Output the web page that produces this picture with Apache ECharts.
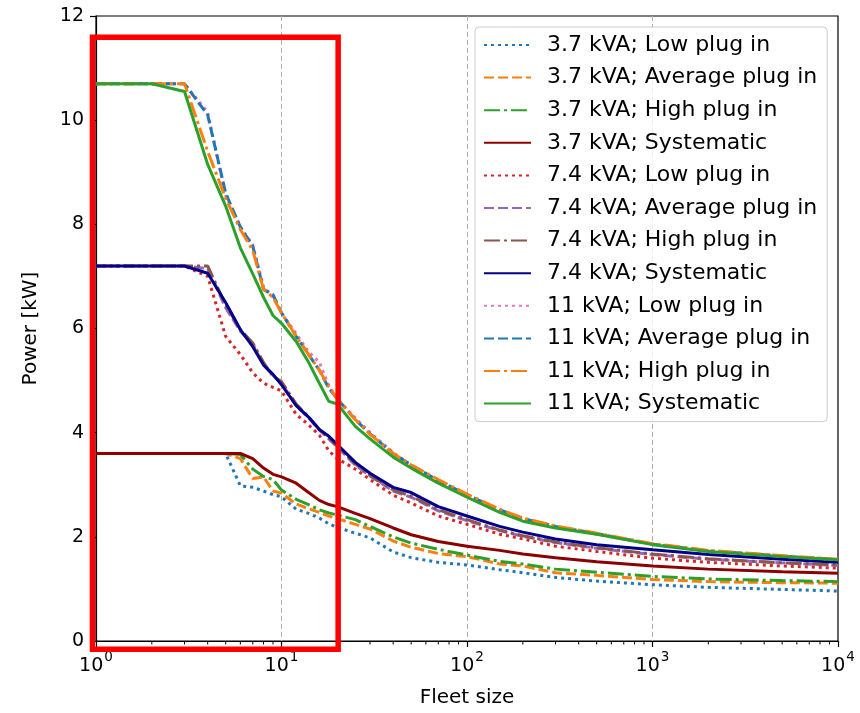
<!DOCTYPE html>
<html>
<head>
<meta charset="utf-8">
<script src="https://cdn.jsdelivr.net/npm/echarts@6/dist/echarts.min.js"></script>
<style>html,body{margin:0;padding:0;background:#fff}#c{width:860px;height:713px}</style>
</head>
<body>
<div id="c"></div>
<script>
// Fleet sizes (x)
const fleetSizes = [1, 2, 3, 4, 5, 6, 7, 8, 9, 10, 12, 14, 16, 18, 20, 25, 30, 40, 50, 70, 100, 150, 200, 300, 500, 1000, 2000, 5000, 10000];

// 3.7 kVA
const kva37Low  = [3.6, 3.6, 3.6, 3.6, 3.6, 2.98, 2.95, 2.88, 2.81, 2.77, 2.53, 2.45, 2.36, 2.25, 2.18, 2.07, 1.98, 1.71, 1.6, 1.51, 1.46, 1.37, 1.31, 1.22, 1.15, 1.08, 1.03, 0.99, 0.96];
const kva37Avg  = [3.6, 3.6, 3.6, 3.6, 3.6, 3.5, 3.12, 3.15, 2.88, 2.84, 2.63, 2.54, 2.47, 2.4, 2.35, 2.24, 2.15, 1.92, 1.8, 1.68, 1.62, 1.48, 1.44, 1.31, 1.26, 1.18, 1.14, 1.12, 1.11];
const kva37High = [3.6, 3.6, 3.6, 3.6, 3.6, 3.58, 3.3, 3.16, 3.1, 2.9, 2.72, 2.62, 2.52, 2.46, 2.42, 2.33, 2.2, 2.0, 1.88, 1.76, 1.65, 1.53, 1.48, 1.38, 1.32, 1.24, 1.19, 1.16, 1.14];
const kva37Sys  = [3.6, 3.6, 3.6, 3.6, 3.6, 3.6, 3.5, 3.32, 3.2, 3.15, 3.03, 2.85, 2.7, 2.62, 2.58, 2.45, 2.35, 2.17, 2.04, 1.91, 1.82, 1.74, 1.67, 1.6, 1.52, 1.44, 1.38, 1.33, 1.3];
// 7.4 kVA
const kva74Low  = [7.2, 7.2, 7.2, 7.0, 5.85, 5.5, 5.15, 4.95, 4.87, 4.8, 4.35, 4.15, 3.95, 3.65, 3.5, 3.3, 3.1, 2.8, 2.65, 2.4, 2.24, 2.05, 1.96, 1.82, 1.72, 1.59, 1.51, 1.44, 1.4];
const kva74Avg  = [7.2, 7.2, 7.2, 7.15, 6.4, 5.95, 5.7, 5.3, 5.1, 4.95, 4.52, 4.28, 4.05, 3.88, 3.72, 3.38, 3.17, 2.88, 2.76, 2.5, 2.31, 2.12, 2.01, 1.89, 1.78, 1.66, 1.57, 1.5, 1.45];
const kva74High = [7.2, 7.2, 7.2, 7.2, 6.45, 5.98, 5.72, 5.35, 5.08, 4.98, 4.55, 4.3, 4.06, 3.9, 3.74, 3.4, 3.18, 2.9, 2.78, 2.52, 2.33, 2.13, 2.02, 1.9, 1.79, 1.67, 1.58, 1.5, 1.46];
const kva74Sys  = [7.2, 7.2, 7.2, 7.06, 6.5, 5.98, 5.65, 5.3, 5.12, 4.92, 4.52, 4.3, 4.06, 3.93, 3.77, 3.43, 3.22, 2.95, 2.85, 2.58, 2.4, 2.2, 2.09, 1.96, 1.85, 1.75, 1.66, 1.57, 1.51];
// 11 kVA
const kva11Low  = [10.7, 10.7, 10.7, 10.15, 8.55, 7.95, 7.6, 6.8, 6.6, 6.3, 5.9, 5.55, 5.35, 4.9, 4.65, 4.28, 4.0, 3.62, 3.37, 3.07, 2.8, 2.52, 2.35, 2.2, 2.05, 1.86, 1.73, 1.63, 1.56];
const kva11Avg  = [10.7, 10.7, 10.7, 10.1, 8.6, 7.95, 7.58, 6.75, 6.65, 6.3, 5.85, 5.5, 5.2, 4.85, 4.65, 4.25, 3.98, 3.6, 3.38, 3.08, 2.81, 2.52, 2.35, 2.2, 2.06, 1.86, 1.73, 1.63, 1.56];
const kva11High = [10.7, 10.7, 10.7, 9.4, 8.5, 7.9, 7.5, 6.75, 6.6, 6.3, 5.85, 5.5, 5.2, 4.88, 4.65, 4.25, 3.97, 3.6, 3.38, 3.1, 2.82, 2.53, 2.36, 2.21, 2.07, 1.87, 1.74, 1.64, 1.57];
const kva11Sys  = [10.7, 10.7, 10.55, 9.15, 8.35, 7.55, 7.05, 6.6, 6.25, 6.1, 5.75, 5.35, 4.95, 4.6, 4.55, 4.12, 3.88, 3.53, 3.32, 3.03, 2.76, 2.47, 2.3, 2.17, 2.05, 1.85, 1.72, 1.62, 1.56];

const seriesNames = [
  '3.7 kVA; Low plug in', '3.7 kVA; Average plug in', '3.7 kVA; High plug in', '3.7 kVA; Systematic',
  '7.4 kVA; Low plug in', '7.4 kVA; Average plug in', '7.4 kVA; High plug in', '7.4 kVA; Systematic',
  '11 kVA; Low plug in', '11 kVA; Average plug in', '11 kVA; High plug in', '11 kVA; Systematic'
];
const seriesValues = [kva37Low, kva37Avg, kva37High, kva37Sys, kva74Low, kva74Avg, kva74High, kva74Sys, kva11Low, kva11Avg, kva11High, kva11Sys];
const seriesColors = ['#1f77b4', '#ff7f0e', '#2ca02c', '#8b0000', '#d62728', '#9467bd', '#8c564b', '#00008b', '#e377c2', '#1f77b4', '#ff7f0e', '#2ca02c'];
const seriesStyles = ['dot', 'dash', 'dashdot', 'solid', 'dot', 'dash', 'dashdot', 'solid', 'dot', 'dash', 'dashdot', 'solid'];

const minorTickValues = [];
[1, 10, 100, 1000].forEach(d => { for (let k = 2; k <= 9; k++) minorTickValues.push(d * k); });

// annotation box (data coordinates: [x, y] corners)
const boxCorner1 = [0.957, 11.59];
const boxCorner2 = [20.2, -0.16];

const dashMap = { dot: [3, 4], dash: [10, 4], dashdot: [16, 4, 3, 4], solid: 'solid' };
const FONT = 'DejaVu Sans';

const series = seriesNames.map((name, i) => ({
  name: name,
  type: 'line',
  symbol: 'none',
  showSymbol: false,
  data: fleetSizes.map((x, j) => [x, seriesValues[i][j]]),
  color: seriesColors[i],
  itemStyle: { color: seriesColors[i] },
  lineStyle: { width: 3, color: seriesColors[i], type: dashMap[seriesStyles[i]] },
  emphasis: { disabled: true },
  animation: false
}));

const chart = echarts.init(document.getElementById('c'), null, { renderer: 'canvas' });
const option = {
  backgroundColor: '#fff',
  animation: false,
  grid: { left: 96, right: 22, top: 16, bottom: 72, show: true, borderColor: '#000', borderWidth: 1.2, backgroundColor: 'transparent' },
  xAxis: {
    type: 'log', logBase: 10, min: 1, max: 10000,
    name: 'Fleet size', nameLocation: 'middle', nameGap: 47,
    nameTextStyle: { fontFamily: FONT, fontSize: 20, color: '#000' },
    axisLine: { show: true, lineStyle: { color: '#000', width: 1.2 } },
    axisTick: { show: true, length: 6, lineStyle: { color: '#000', width: 1.2 } },
    splitLine: { show: true, showMinLine: false, showMaxLine: false, lineStyle: { color: '#b0b0b0', type: [5, 3], width: 1 } },
    axisLabel: {
      margin: 9,
      formatter: function (v) { return '{b|10}{s|' + Math.round(Math.log10(v)) + '}'; },
      rich: {
        b: { fontFamily: FONT, fontSize: 19, color: '#000', lineHeight: 26, verticalAlign: 'bottom' },
        s: { fontFamily: FONT, fontSize: 13.5, color: '#000', lineHeight: 26, verticalAlign: 'top', padding: [0, 0, 10, 1] }
      }
    }
  },
  yAxis: {
    type: 'value', min: 0, max: 12, interval: 2,
    name: 'Power [kW]', nameLocation: 'middle', nameGap: 55, nameRotate: 90,
    nameTextStyle: { fontFamily: FONT, fontSize: 20, color: '#000' },
    axisLine: { show: true, lineStyle: { color: '#000', width: 1.2 } },
    axisTick: { show: true, length: 6, lineStyle: { color: '#000', width: 1.2 } },
    splitLine: { show: false },
    axisLabel: { margin: 12, fontFamily: FONT, fontSize: 19, color: '#000' }
  },
  legend: {
    show: true,
    data: seriesNames,
    orient: 'vertical',
    left: 475, top: 27,
    itemWidth: 47, itemHeight: 14, itemGap: 8.6,
    padding: [6, 10, 6, 8],
    backgroundColor: 'rgba(255,255,255,0.8)',
    borderColor: '#cccccc', borderWidth: 1, borderRadius: 4,
    itemStyle: { opacity: 0 },
    textStyle: { fontFamily: FONT, fontSize: 22, color: '#000', lineHeight: 24, padding: [0, 0, 0, 11] },
    selectedMode: false,
    z: 20
  },
  series: series
};
chart.setOption(option);

// minor ticks on the log x axis, positioned through the axis scale
const minorG = minorTickValues.map(v => {
  const p = chart.convertToPixel({ gridIndex: 0 }, [v, 0]);
  return { type: 'line', silent: true, z: 50, shape: { x1: p[0], y1: p[1], x2: p[0], y2: p[1] + 3.5 }, style: { stroke: '#000', lineWidth: 1 } };
});

const p1 = chart.convertToPixel({ gridIndex: 0 }, boxCorner1);
const p2 = chart.convertToPixel({ gridIndex: 0 }, boxCorner2);
chart.setOption({
  graphic: minorG.concat([{
    type: 'rect', z: 100, silent: true,
    shape: { x: Math.min(p1[0], p2[0]), y: Math.min(p1[1], p2[1]), width: Math.abs(p2[0] - p1[0]), height: Math.abs(p2[1] - p1[1]) },
    style: { fill: 'none', stroke: '#ff0000', lineWidth: 5.5 }
  }])
});
</script>
</body>
</html>
